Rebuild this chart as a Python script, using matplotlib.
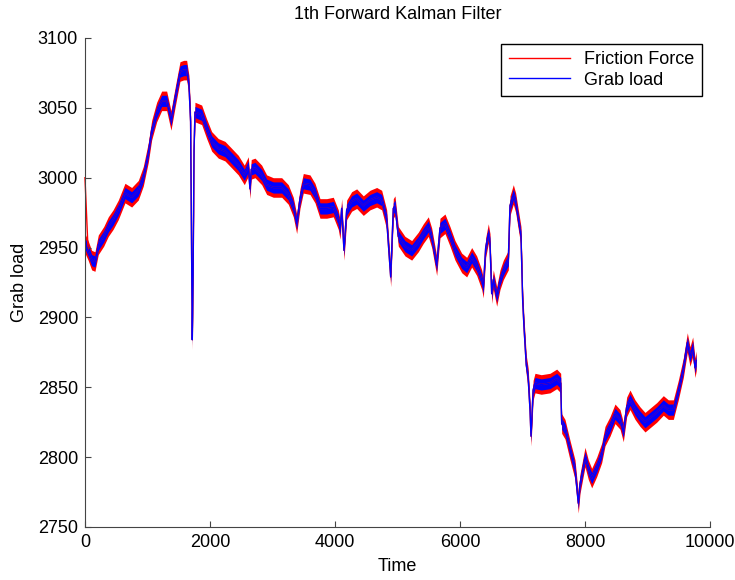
import matplotlib.pyplot as plt
import numpy as np

# center of the traces
time = [0, 50, 107, 160, 213, 300, 373, 450, 533, 640, 747, 853, 933, 1013, 1067,
        1147, 1227, 1307, 1376, 1440, 1520, 1580, 1627, 1664, 1690, 1705, 1717,
        1730, 1745, 1760, 1867, 1947, 2027, 2133, 2240, 2347, 2453, 2549, 2613,
        2640, 2660, 2720, 2827, 2907, 3013, 3147, 3253, 3333, 3387, 3440, 3493,
        3600, 3680, 3760, 3867, 3973, 4053, 4080, 4107, 4144, 4187, 4267, 4347,
        4453, 4560, 4667, 4747, 4827, 4891, 4933, 4960, 5013, 5120, 5227, 5333,
        5413, 5493, 5547, 5627, 5680, 5760, 5840, 5920, 6027, 6107, 6187, 6267,
        6347, 6373, 6411, 6453, 6480, 6507, 6533, 6587, 6640, 6693, 6773, 6800,
        6853, 6891, 6933, 6976, 7003, 7024, 7060, 7090, 7120, 7136, 7170, 7200,
        7300, 7440, 7547, 7611, 7627, 7680, 7760, 7840, 7893, 7920, 8000, 8053,
        8107, 8187, 8267, 8320, 8400, 8480, 8560, 8613, 8667, 8720, 8800, 8880,
        8960, 9040, 9147, 9253, 9333, 9413, 9493, 9573, 9637, 9680, 9723, 9760,
        9780]
grab_load = [2953, 2948, 2941, 2940, 2952, 2958, 2965, 2970, 2977, 2989, 2986,
             2991, 3001, 3018, 3034, 3047, 3055, 3055, 3041, 3057, 3076, 3077,
             3077, 3066, 3040, 2950, 2884, 2930, 3020, 3047, 3045, 3035, 3026,
             3021, 3019, 3014, 3009, 3002, 3008, 2992, 3006, 3007, 3002, 2995,
             2993, 2993, 2988, 2979, 2967, 2985, 2996, 2995, 2989, 2978, 2978,
             2979, 2970, 2963, 2978, 2948, 2977, 2983, 2985, 2980, 2984, 2986,
             2984, 2970, 2929, 2978, 2980, 2958, 2951, 2948, 2954, 2960, 2965,
             2957, 2937, 2964, 2967, 2958, 2948, 2939, 2936, 2943, 2937, 2927,
             2921, 2950, 2960, 2953, 2917, 2927, 2915, 2927, 2934, 2941, 2980,
             2988, 2982, 2970, 2958, 2912, 2893, 2866, 2857, 2834, 2815, 2848,
             2853, 2852, 2853, 2856, 2853, 2824, 2820, 2805, 2791, 2767, 2781,
             2800, 2791, 2785, 2793, 2803, 2815, 2822, 2831, 2827, 2818, 2836,
             2841, 2834, 2829, 2825, 2828, 2832, 2837, 2834, 2834, 2848, 2864,
             2882, 2872, 2879, 2864, 2869]
friction_start = 3000   # filter initial value at t=0
friction_spread = 7     # half-width of the red noise band
grab_spread = 4         # half-width of the blue noise band

t = np.array(time)
g = np.array(grab_load)
f = g.copy()
f[0] = friction_start

plt.rcParams['font.family'] = ['Liberation Sans', 'DejaVu Sans']
plt.rcParams['font.size'] = 13

fig = plt.figure(figsize=(7.35, 5.8), dpi=100)
ax = fig.add_axes([0.1156, 0.0914, 0.8504, 0.8431])

ax.fill_between(t, g - friction_spread, g + friction_spread, color='red', lw=0)
ax.plot(t, f, color='red', lw=1, label='Friction Force', clip_on=False)
ax.fill_between(t, g - grab_spread, g + grab_spread, color='blue', lw=0)
ax.plot(t, g, color='blue', lw=1, label='Grab load')

ax.set_xlim(0, 10000)
ax.set_ylim(2750, 3100)
ax.set_xticks(np.arange(0, 10001, 2000))
ax.set_yticks(np.arange(2750, 3101, 50))
ax.tick_params(direction='in', length=4, width=0.8, color='#444444', labelsize=13, pad=5)
for s in ['top', 'right']:
    ax.spines[s].set_visible(False)
for s in ['left', 'bottom']:
    ax.spines[s].set_color('#444444')

ax.set_title('1th Forward Kalman Filter', fontsize=13, pad=14)
ax.set_xlabel('Time', fontsize=13, labelpad=5)
ax.set_ylabel('Grab load', fontsize=13, labelpad=7)

leg = ax.legend(loc='upper right', fancybox=False, edgecolor='black',
                framealpha=1, fontsize=13, bbox_to_anchor=(0.987, 0.988),
                borderaxespad=0, handlelength=3.4, borderpad=0.4, labelspacing=0.2)
leg.get_frame().set_linewidth(1)

plt.savefig('out.png', dpi=100)
plt.close()
